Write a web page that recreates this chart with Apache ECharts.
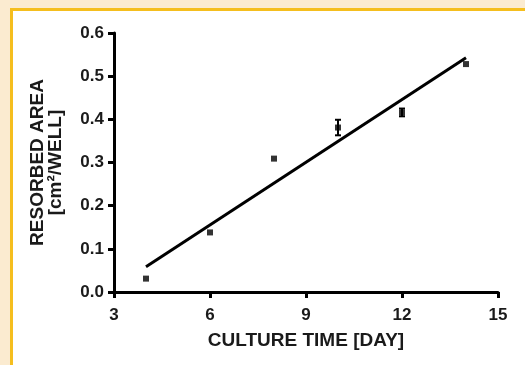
<!DOCTYPE html>
<html>
<head>
<meta charset="utf-8">
<script src="https://cdn.jsdelivr.net/npm/echarts@6/dist/echarts.min.js"></script>
<style>
html,body{margin:0;padding:0;background:#FBEBD0;width:525px;height:365px;overflow:hidden;}
#frame{position:absolute;left:10px;top:8px;width:512px;height:354px;background:#ffffff;border-left:3px solid #F5BE1E;border-top:3px solid #F5BE1E;}
#chart{position:absolute;left:0;top:0;width:525px;height:365px;}
</style>
</head>
<body>
<div id="frame"></div>
<div id="chart"></div>
<script>
// Data
var days = [4, 6, 8, 10, 12, 14];
var area = [0.031, 0.138, 0.309, 0.381, 0.416, 0.528];
var errs = [0, 0, 0, 0.018, 0.009, 0];
var fitX = [4, 14];
var fitY = [0.0585, 0.5425];
var xTicks = [3, 6, 9, 12, 15];
var yTicks = [0.0, 0.1, 0.2, 0.3, 0.4, 0.5, 0.6];

var pts = days.map(function (d, i) { return [d, area[i]]; });
var errData = days.map(function (d, i) { return [d, area[i] - errs[i], area[i] + errs[i]]; });
var fitData = fitX.map(function (d, i) { return [d, fitY[i]]; });

var chart = echarts.init(document.getElementById('chart'), null, {renderer: 'canvas'});
var font = '"Liberation Sans", Arial, sans-serif';
chart.setOption({
  backgroundColor: 'transparent',
  animation: false,
  grid: {left: 114, right: 27, top: 33, bottom: 73, containLabel: false},
  xAxis: {
    type: 'value', min: xTicks[0], max: xTicks[xTicks.length - 1], interval: 3,
    name: 'CULTURE TIME [DAY]', nameLocation: 'middle', nameGap: 39,
    nameTextStyle: {fontFamily: font, fontWeight: 'bold', fontSize: 19, color: '#1a1a1a'},
    axisLine: {show: true, onZero: false, lineStyle: {color: '#000', width: 3}},
    axisTick: {show: true, inside: false, length: 6, lineStyle: {color: '#000', width: 3}},
    axisLabel: {margin: 15, fontFamily: font, fontWeight: 'bold', fontSize: 17, color: '#1a1a1a',
      formatter: function (v) { return String(v); }},
    splitLine: {show: false}
  },
  yAxis: {
    type: 'value', min: yTicks[0], max: yTicks[yTicks.length - 1], interval: 0.1,
    name: 'RESORBED AREA\n[cm\u00B2/WELL]', nameLocation: 'middle', nameGap: 49, nameRotate: 90,
    nameTextStyle: {fontFamily: font, fontWeight: 'bold', fontSize: 19, lineHeight: 18, color: '#1a1a1a', align: 'center'},
    axisLine: {show: true, onZero: false, lineStyle: {color: '#000', width: 3}},
    axisTick: {show: true, inside: false, length: 6, lineStyle: {color: '#000', width: 3}},
    axisLabel: {margin: 10, fontFamily: font, fontWeight: 'bold', fontSize: 17, color: '#1a1a1a',
      formatter: function (v) { return v.toFixed(1); }},
    splitLine: {show: false}
  },
  series: [
    {
      type: 'line', data: fitData, showSymbol: false, symbol: 'none',
      lineStyle: {color: '#000', width: 3}, z: 3
    },
    {
      type: 'custom', data: errData, z: 4,
      renderItem: function (params, api) {
        var x = api.value(0);
        var lo = api.coord([x, api.value(1)]);
        var hi = api.coord([x, api.value(2)]);
        if (Math.abs(hi[1] - lo[1]) < 1) return null;
        var hw = 3;
        var st = {stroke: '#000', lineWidth: 2};
        return {type: 'group', children: [
          {type: 'line', shape: {x1: lo[0], y1: lo[1], x2: hi[0], y2: hi[1]}, style: st},
          {type: 'line', shape: {x1: lo[0] - hw, y1: lo[1], x2: lo[0] + hw, y2: lo[1]}, style: st},
          {type: 'line', shape: {x1: hi[0] - hw, y1: hi[1], x2: hi[0] + hw, y2: hi[1]}, style: st}
        ]};
      }
    },
    {
      type: 'scatter', data: pts, symbol: 'rect', symbolSize: 6,
      itemStyle: {color: '#000'}, z: 5
    }
  ]
});
</script>
</body>
</html>
